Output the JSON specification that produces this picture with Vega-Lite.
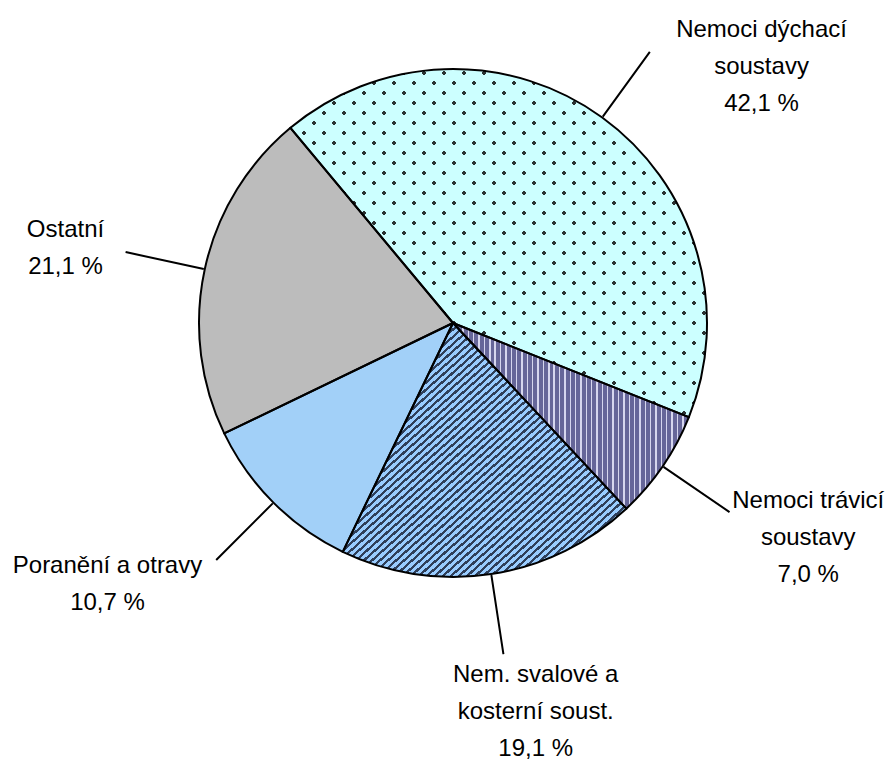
{
  "$schema": "https://vega.github.io/schema/vega-lite/v6.json",
  "width": 600,
  "height": 600,
  "autosize": {"type": "none"},
  "padding": {"left": 153, "top": 23, "right": 135, "bottom": 137},
  "background": "white",
  "config": {"view": {"stroke": null}},
  "data": {"values": [
    {"kategorie": "Nemoci dýchací soustavy", "podil": 42.1, "poradi": 1, "popisek": "Nemoci dýchací\nsoustavy\n42,1 %"},
    {"kategorie": "Nemoci trávicí soustavy", "podil": 7.0, "poradi": 2, "popisek": "Nemoci trávicí\nsoustavy\n7,0 %"},
    {"kategorie": "Nem. svalové a kosterní soust.", "podil": 19.1, "poradi": 3, "popisek": "Nem. svalové a\nkosterní soust.\n19,1 %"},
    {"kategorie": "Poranění a otravy", "podil": 10.7, "poradi": 4, "popisek": "Poranění a otravy\n10,7 %"},
    {"kategorie": "Ostatní", "podil": 21.1, "poradi": 5, "popisek": "Ostatní\n21,1 %"}
  ]},
  "encoding": {
    "theta": {"field": "podil", "type": "quantitative", "stack": true, "scale": {"range": [-0.6946, 5.5886]}},
    "order": {"field": "poradi", "type": "quantitative"}
  },
  "layer": [
    {
      "mark": {"type": "arc", "outerRadius": 254},
      "encoding": {
        "fill": {
          "condition": [
            {"test": "datum.poradi === 1", "value": "#2a3333"},
            {"test": "datum.poradi === 2", "value": {"gradient": "linear", "x1": 0, "y1": 0, "x2": 1, "y2": 0, "stops": [
              {"offset":0,"color":"#666699"},{"offset":0.0168,"color":"#666699"},{"offset":0.0168,"color":"#d6d6ee"},{"offset":0.0227,"color":"#d6d6ee"},
              {"offset":0.0227,"color":"#666699"},{"offset":0.0396,"color":"#666699"},{"offset":0.0396,"color":"#d6d6ee"},{"offset":0.0455,"color":"#d6d6ee"},
              {"offset":0.0455,"color":"#666699"},{"offset":0.0623,"color":"#666699"},{"offset":0.0623,"color":"#d6d6ee"},{"offset":0.0682,"color":"#d6d6ee"},
              {"offset":0.0682,"color":"#666699"},{"offset":0.0850,"color":"#666699"},{"offset":0.0850,"color":"#d6d6ee"},{"offset":0.0909,"color":"#d6d6ee"},
              {"offset":0.0909,"color":"#666699"},{"offset":0.1077,"color":"#666699"},{"offset":0.1077,"color":"#d6d6ee"},{"offset":0.1136,"color":"#d6d6ee"},
              {"offset":0.1136,"color":"#666699"},{"offset":0.1305,"color":"#666699"},{"offset":0.1305,"color":"#d6d6ee"},{"offset":0.1364,"color":"#d6d6ee"},
              {"offset":0.1364,"color":"#666699"},{"offset":0.1532,"color":"#666699"},{"offset":0.1532,"color":"#d6d6ee"},{"offset":0.1591,"color":"#d6d6ee"},
              {"offset":0.1591,"color":"#666699"},{"offset":0.1759,"color":"#666699"},{"offset":0.1759,"color":"#d6d6ee"},{"offset":0.1818,"color":"#d6d6ee"},
              {"offset":0.1818,"color":"#666699"},{"offset":0.1986,"color":"#666699"},{"offset":0.1986,"color":"#d6d6ee"},{"offset":0.2045,"color":"#d6d6ee"},
              {"offset":0.2045,"color":"#666699"},{"offset":0.2214,"color":"#666699"},{"offset":0.2214,"color":"#d6d6ee"},{"offset":0.2273,"color":"#d6d6ee"},
              {"offset":0.2273,"color":"#666699"},{"offset":0.2441,"color":"#666699"},{"offset":0.2441,"color":"#d6d6ee"},{"offset":0.25,"color":"#d6d6ee"},
              {"offset":0.25,"color":"#666699"},{"offset":0.2668,"color":"#666699"},{"offset":0.2668,"color":"#d6d6ee"},{"offset":0.2727,"color":"#d6d6ee"},
              {"offset":0.2727,"color":"#666699"},{"offset":0.2896,"color":"#666699"},{"offset":0.2896,"color":"#d6d6ee"},{"offset":0.2955,"color":"#d6d6ee"},
              {"offset":0.2955,"color":"#666699"},{"offset":0.3123,"color":"#666699"},{"offset":0.3123,"color":"#d6d6ee"},{"offset":0.3182,"color":"#d6d6ee"},
              {"offset":0.3182,"color":"#666699"},{"offset":0.3350,"color":"#666699"},{"offset":0.3350,"color":"#d6d6ee"},{"offset":0.3409,"color":"#d6d6ee"},
              {"offset":0.3409,"color":"#666699"},{"offset":0.3577,"color":"#666699"},{"offset":0.3577,"color":"#d6d6ee"},{"offset":0.3636,"color":"#d6d6ee"},
              {"offset":0.3636,"color":"#666699"},{"offset":0.3805,"color":"#666699"},{"offset":0.3805,"color":"#d6d6ee"},{"offset":0.3864,"color":"#d6d6ee"},
              {"offset":0.3864,"color":"#666699"},{"offset":0.4032,"color":"#666699"},{"offset":0.4032,"color":"#d6d6ee"},{"offset":0.4091,"color":"#d6d6ee"},
              {"offset":0.4091,"color":"#666699"},{"offset":0.4259,"color":"#666699"},{"offset":0.4259,"color":"#d6d6ee"},{"offset":0.4318,"color":"#d6d6ee"},
              {"offset":0.4318,"color":"#666699"},{"offset":0.4486,"color":"#666699"},{"offset":0.4486,"color":"#d6d6ee"},{"offset":0.4545,"color":"#d6d6ee"},
              {"offset":0.4545,"color":"#666699"},{"offset":0.4714,"color":"#666699"},{"offset":0.4714,"color":"#d6d6ee"},{"offset":0.4773,"color":"#d6d6ee"},
              {"offset":0.4773,"color":"#666699"},{"offset":0.4941,"color":"#666699"},{"offset":0.4941,"color":"#d6d6ee"},{"offset":0.5,"color":"#d6d6ee"},
              {"offset":0.5,"color":"#666699"},{"offset":0.5168,"color":"#666699"},{"offset":0.5168,"color":"#d6d6ee"},{"offset":0.5227,"color":"#d6d6ee"},
              {"offset":0.5227,"color":"#666699"},{"offset":0.5396,"color":"#666699"},{"offset":0.5396,"color":"#d6d6ee"},{"offset":0.5455,"color":"#d6d6ee"},
              {"offset":0.5455,"color":"#666699"},{"offset":0.5623,"color":"#666699"},{"offset":0.5623,"color":"#d6d6ee"},{"offset":0.5682,"color":"#d6d6ee"},
              {"offset":0.5682,"color":"#666699"},{"offset":0.5850,"color":"#666699"},{"offset":0.5850,"color":"#d6d6ee"},{"offset":0.5909,"color":"#d6d6ee"},
              {"offset":0.5909,"color":"#666699"},{"offset":0.6077,"color":"#666699"},{"offset":0.6077,"color":"#d6d6ee"},{"offset":0.6136,"color":"#d6d6ee"},
              {"offset":0.6136,"color":"#666699"},{"offset":0.6305,"color":"#666699"},{"offset":0.6305,"color":"#d6d6ee"},{"offset":0.6364,"color":"#d6d6ee"},
              {"offset":0.6364,"color":"#666699"},{"offset":0.6532,"color":"#666699"},{"offset":0.6532,"color":"#d6d6ee"},{"offset":0.6591,"color":"#d6d6ee"},
              {"offset":0.6591,"color":"#666699"},{"offset":0.6759,"color":"#666699"},{"offset":0.6759,"color":"#d6d6ee"},{"offset":0.6818,"color":"#d6d6ee"},
              {"offset":0.6818,"color":"#666699"},{"offset":0.6986,"color":"#666699"},{"offset":0.6986,"color":"#d6d6ee"},{"offset":0.7045,"color":"#d6d6ee"},
              {"offset":0.7045,"color":"#666699"},{"offset":0.7214,"color":"#666699"},{"offset":0.7214,"color":"#d6d6ee"},{"offset":0.7273,"color":"#d6d6ee"},
              {"offset":0.7273,"color":"#666699"},{"offset":0.7441,"color":"#666699"},{"offset":0.7441,"color":"#d6d6ee"},{"offset":0.75,"color":"#d6d6ee"},
              {"offset":0.75,"color":"#666699"},{"offset":0.7668,"color":"#666699"},{"offset":0.7668,"color":"#d6d6ee"},{"offset":0.7727,"color":"#d6d6ee"},
              {"offset":0.7727,"color":"#666699"},{"offset":0.7896,"color":"#666699"},{"offset":0.7896,"color":"#d6d6ee"},{"offset":0.7955,"color":"#d6d6ee"},
              {"offset":0.7955,"color":"#666699"},{"offset":0.8123,"color":"#666699"},{"offset":0.8123,"color":"#d6d6ee"},{"offset":0.8182,"color":"#d6d6ee"},
              {"offset":0.8182,"color":"#666699"},{"offset":0.8350,"color":"#666699"},{"offset":0.8350,"color":"#d6d6ee"},{"offset":0.8409,"color":"#d6d6ee"},
              {"offset":0.8409,"color":"#666699"},{"offset":0.8577,"color":"#666699"},{"offset":0.8577,"color":"#d6d6ee"},{"offset":0.8636,"color":"#d6d6ee"},
              {"offset":0.8636,"color":"#666699"},{"offset":0.8805,"color":"#666699"},{"offset":0.8805,"color":"#d6d6ee"},{"offset":0.8864,"color":"#d6d6ee"},
              {"offset":0.8864,"color":"#666699"},{"offset":0.9032,"color":"#666699"},{"offset":0.9032,"color":"#d6d6ee"},{"offset":0.9091,"color":"#d6d6ee"},
              {"offset":0.9091,"color":"#666699"},{"offset":0.9259,"color":"#666699"},{"offset":0.9259,"color":"#d6d6ee"},{"offset":0.9318,"color":"#d6d6ee"},
              {"offset":0.9318,"color":"#666699"},{"offset":0.9486,"color":"#666699"},{"offset":0.9486,"color":"#d6d6ee"},{"offset":0.9545,"color":"#d6d6ee"},
              {"offset":0.9545,"color":"#666699"},{"offset":0.9714,"color":"#666699"},{"offset":0.9714,"color":"#d6d6ee"},{"offset":0.9773,"color":"#d6d6ee"},
              {"offset":0.9773,"color":"#666699"},{"offset":0.9941,"color":"#666699"},{"offset":0.9941,"color":"#d6d6ee"},{"offset":1,"color":"#d6d6ee"}
            ]}},
            {"test": "datum.poradi === 3", "value": {"gradient": "linear", "x1": 0.19, "y1": 0.19, "x2": 0.87, "y2": 0.87, "stops": [
              {"offset":0,"color":"#2f3f5a"},{"offset":0.0088,"color":"#2f3f5a"},{"offset":0.0088,"color":"#99ccff"},{"offset":0.0208,"color":"#99ccff"},
              {"offset":0.0208,"color":"#2f3f5a"},{"offset":0.0296,"color":"#2f3f5a"},{"offset":0.0296,"color":"#99ccff"},{"offset":0.0417,"color":"#99ccff"},
              {"offset":0.0417,"color":"#2f3f5a"},{"offset":0.0504,"color":"#2f3f5a"},{"offset":0.0504,"color":"#99ccff"},{"offset":0.0625,"color":"#99ccff"},
              {"offset":0.0625,"color":"#2f3f5a"},{"offset":0.0713,"color":"#2f3f5a"},{"offset":0.0713,"color":"#99ccff"},{"offset":0.0833,"color":"#99ccff"},
              {"offset":0.0833,"color":"#2f3f5a"},{"offset":0.0921,"color":"#2f3f5a"},{"offset":0.0921,"color":"#99ccff"},{"offset":0.1042,"color":"#99ccff"},
              {"offset":0.1042,"color":"#2f3f5a"},{"offset":0.1129,"color":"#2f3f5a"},{"offset":0.1129,"color":"#99ccff"},{"offset":0.125,"color":"#99ccff"},
              {"offset":0.125,"color":"#2f3f5a"},{"offset":0.1338,"color":"#2f3f5a"},{"offset":0.1338,"color":"#99ccff"},{"offset":0.1458,"color":"#99ccff"},
              {"offset":0.1458,"color":"#2f3f5a"},{"offset":0.1546,"color":"#2f3f5a"},{"offset":0.1546,"color":"#99ccff"},{"offset":0.1667,"color":"#99ccff"},
              {"offset":0.1667,"color":"#2f3f5a"},{"offset":0.1754,"color":"#2f3f5a"},{"offset":0.1754,"color":"#99ccff"},{"offset":0.1875,"color":"#99ccff"},
              {"offset":0.1875,"color":"#2f3f5a"},{"offset":0.1963,"color":"#2f3f5a"},{"offset":0.1963,"color":"#99ccff"},{"offset":0.2083,"color":"#99ccff"},
              {"offset":0.2083,"color":"#2f3f5a"},{"offset":0.2171,"color":"#2f3f5a"},{"offset":0.2171,"color":"#99ccff"},{"offset":0.2292,"color":"#99ccff"},
              {"offset":0.2292,"color":"#2f3f5a"},{"offset":0.2379,"color":"#2f3f5a"},{"offset":0.2379,"color":"#99ccff"},{"offset":0.25,"color":"#99ccff"},
              {"offset":0.25,"color":"#2f3f5a"},{"offset":0.2588,"color":"#2f3f5a"},{"offset":0.2588,"color":"#99ccff"},{"offset":0.2708,"color":"#99ccff"},
              {"offset":0.2708,"color":"#2f3f5a"},{"offset":0.2796,"color":"#2f3f5a"},{"offset":0.2796,"color":"#99ccff"},{"offset":0.2917,"color":"#99ccff"},
              {"offset":0.2917,"color":"#2f3f5a"},{"offset":0.3004,"color":"#2f3f5a"},{"offset":0.3004,"color":"#99ccff"},{"offset":0.3125,"color":"#99ccff"},
              {"offset":0.3125,"color":"#2f3f5a"},{"offset":0.3213,"color":"#2f3f5a"},{"offset":0.3213,"color":"#99ccff"},{"offset":0.3333,"color":"#99ccff"},
              {"offset":0.3333,"color":"#2f3f5a"},{"offset":0.3421,"color":"#2f3f5a"},{"offset":0.3421,"color":"#99ccff"},{"offset":0.3542,"color":"#99ccff"},
              {"offset":0.3542,"color":"#2f3f5a"},{"offset":0.3629,"color":"#2f3f5a"},{"offset":0.3629,"color":"#99ccff"},{"offset":0.375,"color":"#99ccff"},
              {"offset":0.375,"color":"#2f3f5a"},{"offset":0.3838,"color":"#2f3f5a"},{"offset":0.3838,"color":"#99ccff"},{"offset":0.3958,"color":"#99ccff"},
              {"offset":0.3958,"color":"#2f3f5a"},{"offset":0.4046,"color":"#2f3f5a"},{"offset":0.4046,"color":"#99ccff"},{"offset":0.4167,"color":"#99ccff"},
              {"offset":0.4167,"color":"#2f3f5a"},{"offset":0.4254,"color":"#2f3f5a"},{"offset":0.4254,"color":"#99ccff"},{"offset":0.4375,"color":"#99ccff"},
              {"offset":0.4375,"color":"#2f3f5a"},{"offset":0.4463,"color":"#2f3f5a"},{"offset":0.4463,"color":"#99ccff"},{"offset":0.4583,"color":"#99ccff"},
              {"offset":0.4583,"color":"#2f3f5a"},{"offset":0.4671,"color":"#2f3f5a"},{"offset":0.4671,"color":"#99ccff"},{"offset":0.4792,"color":"#99ccff"},
              {"offset":0.4792,"color":"#2f3f5a"},{"offset":0.4879,"color":"#2f3f5a"},{"offset":0.4879,"color":"#99ccff"},{"offset":0.5,"color":"#99ccff"},
              {"offset":0.5,"color":"#2f3f5a"},{"offset":0.5088,"color":"#2f3f5a"},{"offset":0.5088,"color":"#99ccff"},{"offset":0.5208,"color":"#99ccff"},
              {"offset":0.5208,"color":"#2f3f5a"},{"offset":0.5296,"color":"#2f3f5a"},{"offset":0.5296,"color":"#99ccff"},{"offset":0.5417,"color":"#99ccff"},
              {"offset":0.5417,"color":"#2f3f5a"},{"offset":0.5504,"color":"#2f3f5a"},{"offset":0.5504,"color":"#99ccff"},{"offset":0.5625,"color":"#99ccff"},
              {"offset":0.5625,"color":"#2f3f5a"},{"offset":0.5713,"color":"#2f3f5a"},{"offset":0.5713,"color":"#99ccff"},{"offset":0.5833,"color":"#99ccff"},
              {"offset":0.5833,"color":"#2f3f5a"},{"offset":0.5921,"color":"#2f3f5a"},{"offset":0.5921,"color":"#99ccff"},{"offset":0.6042,"color":"#99ccff"},
              {"offset":0.6042,"color":"#2f3f5a"},{"offset":0.6129,"color":"#2f3f5a"},{"offset":0.6129,"color":"#99ccff"},{"offset":0.625,"color":"#99ccff"},
              {"offset":0.625,"color":"#2f3f5a"},{"offset":0.6338,"color":"#2f3f5a"},{"offset":0.6338,"color":"#99ccff"},{"offset":0.6458,"color":"#99ccff"},
              {"offset":0.6458,"color":"#2f3f5a"},{"offset":0.6546,"color":"#2f3f5a"},{"offset":0.6546,"color":"#99ccff"},{"offset":0.6667,"color":"#99ccff"},
              {"offset":0.6667,"color":"#2f3f5a"},{"offset":0.6754,"color":"#2f3f5a"},{"offset":0.6754,"color":"#99ccff"},{"offset":0.6875,"color":"#99ccff"},
              {"offset":0.6875,"color":"#2f3f5a"},{"offset":0.6963,"color":"#2f3f5a"},{"offset":0.6963,"color":"#99ccff"},{"offset":0.7083,"color":"#99ccff"},
              {"offset":0.7083,"color":"#2f3f5a"},{"offset":0.7171,"color":"#2f3f5a"},{"offset":0.7171,"color":"#99ccff"},{"offset":0.7292,"color":"#99ccff"},
              {"offset":0.7292,"color":"#2f3f5a"},{"offset":0.7379,"color":"#2f3f5a"},{"offset":0.7379,"color":"#99ccff"},{"offset":0.75,"color":"#99ccff"},
              {"offset":0.75,"color":"#2f3f5a"},{"offset":0.7588,"color":"#2f3f5a"},{"offset":0.7588,"color":"#99ccff"},{"offset":0.7708,"color":"#99ccff"},
              {"offset":0.7708,"color":"#2f3f5a"},{"offset":0.7796,"color":"#2f3f5a"},{"offset":0.7796,"color":"#99ccff"},{"offset":0.7917,"color":"#99ccff"},
              {"offset":0.7917,"color":"#2f3f5a"},{"offset":0.8004,"color":"#2f3f5a"},{"offset":0.8004,"color":"#99ccff"},{"offset":0.8125,"color":"#99ccff"},
              {"offset":0.8125,"color":"#2f3f5a"},{"offset":0.8213,"color":"#2f3f5a"},{"offset":0.8213,"color":"#99ccff"},{"offset":0.8333,"color":"#99ccff"},
              {"offset":0.8333,"color":"#2f3f5a"},{"offset":0.8421,"color":"#2f3f5a"},{"offset":0.8421,"color":"#99ccff"},{"offset":0.8542,"color":"#99ccff"},
              {"offset":0.8542,"color":"#2f3f5a"},{"offset":0.8629,"color":"#2f3f5a"},{"offset":0.8629,"color":"#99ccff"},{"offset":0.875,"color":"#99ccff"},
              {"offset":0.875,"color":"#2f3f5a"},{"offset":0.8838,"color":"#2f3f5a"},{"offset":0.8838,"color":"#99ccff"},{"offset":0.8958,"color":"#99ccff"},
              {"offset":0.8958,"color":"#2f3f5a"},{"offset":0.9046,"color":"#2f3f5a"},{"offset":0.9046,"color":"#99ccff"},{"offset":0.9167,"color":"#99ccff"},
              {"offset":0.9167,"color":"#2f3f5a"},{"offset":0.9254,"color":"#2f3f5a"},{"offset":0.9254,"color":"#99ccff"},{"offset":0.9375,"color":"#99ccff"},
              {"offset":0.9375,"color":"#2f3f5a"},{"offset":0.9463,"color":"#2f3f5a"},{"offset":0.9463,"color":"#99ccff"},{"offset":0.9583,"color":"#99ccff"},
              {"offset":0.9583,"color":"#2f3f5a"},{"offset":0.9671,"color":"#2f3f5a"},{"offset":0.9671,"color":"#99ccff"},{"offset":0.9792,"color":"#99ccff"},
              {"offset":0.9792,"color":"#2f3f5a"},{"offset":0.9879,"color":"#2f3f5a"},{"offset":0.9879,"color":"#99ccff"},{"offset":1,"color":"#99ccff"}
            ]}},
            {"test": "datum.poradi === 4", "value": "#a2d0f8"}
          ],
          "value": "#bcbcbc"
        }
      }
    },
    {
      "mark": {"type": "arc", "outerRadius": 254},
      "encoding": {
        "fill": {
          "condition": {"test": "datum.poradi === 1", "value": {"gradient": "linear", "x1": 0, "y1": 0, "x2": 1.074, "y2": 0.8983, "stops": [
            {"offset":0,"color":"#ccffff"},{"offset":0.0201,"color":"#ccffff"},{"offset":0.0201,"color":"rgba(204,255,255,0)"},{"offset":0.0263,"color":"rgba(204,255,255,0)"},
            {"offset":0.0263,"color":"#ccffff"},{"offset":0.0464,"color":"#ccffff"},{"offset":0.0464,"color":"rgba(204,255,255,0)"},{"offset":0.0526,"color":"rgba(204,255,255,0)"},
            {"offset":0.0526,"color":"#ccffff"},{"offset":0.0727,"color":"#ccffff"},{"offset":0.0727,"color":"rgba(204,255,255,0)"},{"offset":0.0789,"color":"rgba(204,255,255,0)"},
            {"offset":0.0789,"color":"#ccffff"},{"offset":0.0991,"color":"#ccffff"},{"offset":0.0991,"color":"rgba(204,255,255,0)"},{"offset":0.1053,"color":"rgba(204,255,255,0)"},
            {"offset":0.1053,"color":"#ccffff"},{"offset":0.1254,"color":"#ccffff"},{"offset":0.1254,"color":"rgba(204,255,255,0)"},{"offset":0.1316,"color":"rgba(204,255,255,0)"},
            {"offset":0.1316,"color":"#ccffff"},{"offset":0.1517,"color":"#ccffff"},{"offset":0.1517,"color":"rgba(204,255,255,0)"},{"offset":0.1579,"color":"rgba(204,255,255,0)"},
            {"offset":0.1579,"color":"#ccffff"},{"offset":0.178,"color":"#ccffff"},{"offset":0.178,"color":"rgba(204,255,255,0)"},{"offset":0.1842,"color":"rgba(204,255,255,0)"},
            {"offset":0.1842,"color":"#ccffff"},{"offset":0.2043,"color":"#ccffff"},{"offset":0.2043,"color":"rgba(204,255,255,0)"},{"offset":0.2105,"color":"rgba(204,255,255,0)"},
            {"offset":0.2105,"color":"#ccffff"},{"offset":0.2306,"color":"#ccffff"},{"offset":0.2306,"color":"rgba(204,255,255,0)"},{"offset":0.2368,"color":"rgba(204,255,255,0)"},
            {"offset":0.2368,"color":"#ccffff"},{"offset":0.257,"color":"#ccffff"},{"offset":0.257,"color":"rgba(204,255,255,0)"},{"offset":0.2632,"color":"rgba(204,255,255,0)"},
            {"offset":0.2632,"color":"#ccffff"},{"offset":0.2833,"color":"#ccffff"},{"offset":0.2833,"color":"rgba(204,255,255,0)"},{"offset":0.2895,"color":"rgba(204,255,255,0)"},
            {"offset":0.2895,"color":"#ccffff"},{"offset":0.3096,"color":"#ccffff"},{"offset":0.3096,"color":"rgba(204,255,255,0)"},{"offset":0.3158,"color":"rgba(204,255,255,0)"},
            {"offset":0.3158,"color":"#ccffff"},{"offset":0.3359,"color":"#ccffff"},{"offset":0.3359,"color":"rgba(204,255,255,0)"},{"offset":0.3421,"color":"rgba(204,255,255,0)"},
            {"offset":0.3421,"color":"#ccffff"},{"offset":0.3622,"color":"#ccffff"},{"offset":0.3622,"color":"rgba(204,255,255,0)"},{"offset":0.3684,"color":"rgba(204,255,255,0)"},
            {"offset":0.3684,"color":"#ccffff"},{"offset":0.3885,"color":"#ccffff"},{"offset":0.3885,"color":"rgba(204,255,255,0)"},{"offset":0.3947,"color":"rgba(204,255,255,0)"},
            {"offset":0.3947,"color":"#ccffff"},{"offset":0.4149,"color":"#ccffff"},{"offset":0.4149,"color":"rgba(204,255,255,0)"},{"offset":0.4211,"color":"rgba(204,255,255,0)"},
            {"offset":0.4211,"color":"#ccffff"},{"offset":0.4412,"color":"#ccffff"},{"offset":0.4412,"color":"rgba(204,255,255,0)"},{"offset":0.4474,"color":"rgba(204,255,255,0)"},
            {"offset":0.4474,"color":"#ccffff"},{"offset":0.4675,"color":"#ccffff"},{"offset":0.4675,"color":"rgba(204,255,255,0)"},{"offset":0.4737,"color":"rgba(204,255,255,0)"},
            {"offset":0.4737,"color":"#ccffff"},{"offset":0.4938,"color":"#ccffff"},{"offset":0.4938,"color":"rgba(204,255,255,0)"},{"offset":0.5,"color":"rgba(204,255,255,0)"},
            {"offset":0.5,"color":"#ccffff"},{"offset":0.5201,"color":"#ccffff"},{"offset":0.5201,"color":"rgba(204,255,255,0)"},{"offset":0.5263,"color":"rgba(204,255,255,0)"},
            {"offset":0.5263,"color":"#ccffff"},{"offset":0.5464,"color":"#ccffff"},{"offset":0.5464,"color":"rgba(204,255,255,0)"},{"offset":0.5526,"color":"rgba(204,255,255,0)"},
            {"offset":0.5526,"color":"#ccffff"},{"offset":0.5727,"color":"#ccffff"},{"offset":0.5727,"color":"rgba(204,255,255,0)"},{"offset":0.5789,"color":"rgba(204,255,255,0)"},
            {"offset":0.5789,"color":"#ccffff"},{"offset":0.5991,"color":"#ccffff"},{"offset":0.5991,"color":"rgba(204,255,255,0)"},{"offset":0.6053,"color":"rgba(204,255,255,0)"},
            {"offset":0.6053,"color":"#ccffff"},{"offset":0.6254,"color":"#ccffff"},{"offset":0.6254,"color":"rgba(204,255,255,0)"},{"offset":0.6316,"color":"rgba(204,255,255,0)"},
            {"offset":0.6316,"color":"#ccffff"},{"offset":0.6517,"color":"#ccffff"},{"offset":0.6517,"color":"rgba(204,255,255,0)"},{"offset":0.6579,"color":"rgba(204,255,255,0)"},
            {"offset":0.6579,"color":"#ccffff"},{"offset":0.678,"color":"#ccffff"},{"offset":0.678,"color":"rgba(204,255,255,0)"},{"offset":0.6842,"color":"rgba(204,255,255,0)"},
            {"offset":0.6842,"color":"#ccffff"},{"offset":0.7043,"color":"#ccffff"},{"offset":0.7043,"color":"rgba(204,255,255,0)"},{"offset":0.7105,"color":"rgba(204,255,255,0)"},
            {"offset":0.7105,"color":"#ccffff"},{"offset":0.7306,"color":"#ccffff"},{"offset":0.7306,"color":"rgba(204,255,255,0)"},{"offset":0.7368,"color":"rgba(204,255,255,0)"},
            {"offset":0.7368,"color":"#ccffff"},{"offset":0.757,"color":"#ccffff"},{"offset":0.757,"color":"rgba(204,255,255,0)"},{"offset":0.7632,"color":"rgba(204,255,255,0)"},
            {"offset":0.7632,"color":"#ccffff"},{"offset":0.7833,"color":"#ccffff"},{"offset":0.7833,"color":"rgba(204,255,255,0)"},{"offset":0.7895,"color":"rgba(204,255,255,0)"},
            {"offset":0.7895,"color":"#ccffff"},{"offset":0.8096,"color":"#ccffff"},{"offset":0.8096,"color":"rgba(204,255,255,0)"},{"offset":0.8158,"color":"rgba(204,255,255,0)"},
            {"offset":0.8158,"color":"#ccffff"},{"offset":0.8359,"color":"#ccffff"},{"offset":0.8359,"color":"rgba(204,255,255,0)"},{"offset":0.8421,"color":"rgba(204,255,255,0)"},
            {"offset":0.8421,"color":"#ccffff"},{"offset":0.8622,"color":"#ccffff"},{"offset":0.8622,"color":"rgba(204,255,255,0)"},{"offset":0.8684,"color":"rgba(204,255,255,0)"},
            {"offset":0.8684,"color":"#ccffff"},{"offset":0.8885,"color":"#ccffff"},{"offset":0.8885,"color":"rgba(204,255,255,0)"},{"offset":0.8947,"color":"rgba(204,255,255,0)"},
            {"offset":0.8947,"color":"#ccffff"},{"offset":0.9149,"color":"#ccffff"},{"offset":0.9149,"color":"rgba(204,255,255,0)"},{"offset":0.9211,"color":"rgba(204,255,255,0)"},
            {"offset":0.9211,"color":"#ccffff"},{"offset":0.9412,"color":"#ccffff"},{"offset":0.9412,"color":"rgba(204,255,255,0)"},{"offset":0.9474,"color":"rgba(204,255,255,0)"},
            {"offset":0.9474,"color":"#ccffff"},{"offset":0.9675,"color":"#ccffff"},{"offset":0.9675,"color":"rgba(204,255,255,0)"},{"offset":0.9737,"color":"rgba(204,255,255,0)"},
            {"offset":0.9737,"color":"#ccffff"},{"offset":0.9938,"color":"#ccffff"},{"offset":0.9938,"color":"rgba(204,255,255,0)"},{"offset":1,"color":"rgba(204,255,255,0)"}
          ]}},
          "value": "transparent"
        }
      }
    },
    {
      "mark": {"type": "arc", "outerRadius": 254},
      "encoding": {
        "fill": {
          "condition": {"test": "datum.poradi === 1", "value": {"gradient": "linear", "x1": 0, "y1": 1, "x2": 1.074, "y2": 0.1017, "stops": [
            {"offset":0,"color":"#ccffff"},{"offset":0.0201,"color":"#ccffff"},{"offset":0.0201,"color":"rgba(204,255,255,0)"},{"offset":0.0263,"color":"rgba(204,255,255,0)"},
            {"offset":0.0263,"color":"#ccffff"},{"offset":0.0464,"color":"#ccffff"},{"offset":0.0464,"color":"rgba(204,255,255,0)"},{"offset":0.0526,"color":"rgba(204,255,255,0)"},
            {"offset":0.0526,"color":"#ccffff"},{"offset":0.0727,"color":"#ccffff"},{"offset":0.0727,"color":"rgba(204,255,255,0)"},{"offset":0.0789,"color":"rgba(204,255,255,0)"},
            {"offset":0.0789,"color":"#ccffff"},{"offset":0.0991,"color":"#ccffff"},{"offset":0.0991,"color":"rgba(204,255,255,0)"},{"offset":0.1053,"color":"rgba(204,255,255,0)"},
            {"offset":0.1053,"color":"#ccffff"},{"offset":0.1254,"color":"#ccffff"},{"offset":0.1254,"color":"rgba(204,255,255,0)"},{"offset":0.1316,"color":"rgba(204,255,255,0)"},
            {"offset":0.1316,"color":"#ccffff"},{"offset":0.1517,"color":"#ccffff"},{"offset":0.1517,"color":"rgba(204,255,255,0)"},{"offset":0.1579,"color":"rgba(204,255,255,0)"},
            {"offset":0.1579,"color":"#ccffff"},{"offset":0.178,"color":"#ccffff"},{"offset":0.178,"color":"rgba(204,255,255,0)"},{"offset":0.1842,"color":"rgba(204,255,255,0)"},
            {"offset":0.1842,"color":"#ccffff"},{"offset":0.2043,"color":"#ccffff"},{"offset":0.2043,"color":"rgba(204,255,255,0)"},{"offset":0.2105,"color":"rgba(204,255,255,0)"},
            {"offset":0.2105,"color":"#ccffff"},{"offset":0.2306,"color":"#ccffff"},{"offset":0.2306,"color":"rgba(204,255,255,0)"},{"offset":0.2368,"color":"rgba(204,255,255,0)"},
            {"offset":0.2368,"color":"#ccffff"},{"offset":0.257,"color":"#ccffff"},{"offset":0.257,"color":"rgba(204,255,255,0)"},{"offset":0.2632,"color":"rgba(204,255,255,0)"},
            {"offset":0.2632,"color":"#ccffff"},{"offset":0.2833,"color":"#ccffff"},{"offset":0.2833,"color":"rgba(204,255,255,0)"},{"offset":0.2895,"color":"rgba(204,255,255,0)"},
            {"offset":0.2895,"color":"#ccffff"},{"offset":0.3096,"color":"#ccffff"},{"offset":0.3096,"color":"rgba(204,255,255,0)"},{"offset":0.3158,"color":"rgba(204,255,255,0)"},
            {"offset":0.3158,"color":"#ccffff"},{"offset":0.3359,"color":"#ccffff"},{"offset":0.3359,"color":"rgba(204,255,255,0)"},{"offset":0.3421,"color":"rgba(204,255,255,0)"},
            {"offset":0.3421,"color":"#ccffff"},{"offset":0.3622,"color":"#ccffff"},{"offset":0.3622,"color":"rgba(204,255,255,0)"},{"offset":0.3684,"color":"rgba(204,255,255,0)"},
            {"offset":0.3684,"color":"#ccffff"},{"offset":0.3885,"color":"#ccffff"},{"offset":0.3885,"color":"rgba(204,255,255,0)"},{"offset":0.3947,"color":"rgba(204,255,255,0)"},
            {"offset":0.3947,"color":"#ccffff"},{"offset":0.4149,"color":"#ccffff"},{"offset":0.4149,"color":"rgba(204,255,255,0)"},{"offset":0.4211,"color":"rgba(204,255,255,0)"},
            {"offset":0.4211,"color":"#ccffff"},{"offset":0.4412,"color":"#ccffff"},{"offset":0.4412,"color":"rgba(204,255,255,0)"},{"offset":0.4474,"color":"rgba(204,255,255,0)"},
            {"offset":0.4474,"color":"#ccffff"},{"offset":0.4675,"color":"#ccffff"},{"offset":0.4675,"color":"rgba(204,255,255,0)"},{"offset":0.4737,"color":"rgba(204,255,255,0)"},
            {"offset":0.4737,"color":"#ccffff"},{"offset":0.4938,"color":"#ccffff"},{"offset":0.4938,"color":"rgba(204,255,255,0)"},{"offset":0.5,"color":"rgba(204,255,255,0)"},
            {"offset":0.5,"color":"#ccffff"},{"offset":0.5201,"color":"#ccffff"},{"offset":0.5201,"color":"rgba(204,255,255,0)"},{"offset":0.5263,"color":"rgba(204,255,255,0)"},
            {"offset":0.5263,"color":"#ccffff"},{"offset":0.5464,"color":"#ccffff"},{"offset":0.5464,"color":"rgba(204,255,255,0)"},{"offset":0.5526,"color":"rgba(204,255,255,0)"},
            {"offset":0.5526,"color":"#ccffff"},{"offset":0.5727,"color":"#ccffff"},{"offset":0.5727,"color":"rgba(204,255,255,0)"},{"offset":0.5789,"color":"rgba(204,255,255,0)"},
            {"offset":0.5789,"color":"#ccffff"},{"offset":0.5991,"color":"#ccffff"},{"offset":0.5991,"color":"rgba(204,255,255,0)"},{"offset":0.6053,"color":"rgba(204,255,255,0)"},
            {"offset":0.6053,"color":"#ccffff"},{"offset":0.6254,"color":"#ccffff"},{"offset":0.6254,"color":"rgba(204,255,255,0)"},{"offset":0.6316,"color":"rgba(204,255,255,0)"},
            {"offset":0.6316,"color":"#ccffff"},{"offset":0.6517,"color":"#ccffff"},{"offset":0.6517,"color":"rgba(204,255,255,0)"},{"offset":0.6579,"color":"rgba(204,255,255,0)"},
            {"offset":0.6579,"color":"#ccffff"},{"offset":0.678,"color":"#ccffff"},{"offset":0.678,"color":"rgba(204,255,255,0)"},{"offset":0.6842,"color":"rgba(204,255,255,0)"},
            {"offset":0.6842,"color":"#ccffff"},{"offset":0.7043,"color":"#ccffff"},{"offset":0.7043,"color":"rgba(204,255,255,0)"},{"offset":0.7105,"color":"rgba(204,255,255,0)"},
            {"offset":0.7105,"color":"#ccffff"},{"offset":0.7306,"color":"#ccffff"},{"offset":0.7306,"color":"rgba(204,255,255,0)"},{"offset":0.7368,"color":"rgba(204,255,255,0)"},
            {"offset":0.7368,"color":"#ccffff"},{"offset":0.757,"color":"#ccffff"},{"offset":0.757,"color":"rgba(204,255,255,0)"},{"offset":0.7632,"color":"rgba(204,255,255,0)"},
            {"offset":0.7632,"color":"#ccffff"},{"offset":0.7833,"color":"#ccffff"},{"offset":0.7833,"color":"rgba(204,255,255,0)"},{"offset":0.7895,"color":"rgba(204,255,255,0)"},
            {"offset":0.7895,"color":"#ccffff"},{"offset":0.8096,"color":"#ccffff"},{"offset":0.8096,"color":"rgba(204,255,255,0)"},{"offset":0.8158,"color":"rgba(204,255,255,0)"},
            {"offset":0.8158,"color":"#ccffff"},{"offset":0.8359,"color":"#ccffff"},{"offset":0.8359,"color":"rgba(204,255,255,0)"},{"offset":0.8421,"color":"rgba(204,255,255,0)"},
            {"offset":0.8421,"color":"#ccffff"},{"offset":0.8622,"color":"#ccffff"},{"offset":0.8622,"color":"rgba(204,255,255,0)"},{"offset":0.8684,"color":"rgba(204,255,255,0)"},
            {"offset":0.8684,"color":"#ccffff"},{"offset":0.8885,"color":"#ccffff"},{"offset":0.8885,"color":"rgba(204,255,255,0)"},{"offset":0.8947,"color":"rgba(204,255,255,0)"},
            {"offset":0.8947,"color":"#ccffff"},{"offset":0.9149,"color":"#ccffff"},{"offset":0.9149,"color":"rgba(204,255,255,0)"},{"offset":0.9211,"color":"rgba(204,255,255,0)"},
            {"offset":0.9211,"color":"#ccffff"},{"offset":0.9412,"color":"#ccffff"},{"offset":0.9412,"color":"rgba(204,255,255,0)"},{"offset":0.9474,"color":"rgba(204,255,255,0)"},
            {"offset":0.9474,"color":"#ccffff"},{"offset":0.9675,"color":"#ccffff"},{"offset":0.9675,"color":"rgba(204,255,255,0)"},{"offset":0.9737,"color":"rgba(204,255,255,0)"},
            {"offset":0.9737,"color":"#ccffff"},{"offset":0.9938,"color":"#ccffff"},{"offset":0.9938,"color":"rgba(204,255,255,0)"},{"offset":1,"color":"rgba(204,255,255,0)"}
          ]}},
          "value": "transparent"
        }
      }
    },
    {
      "mark": {"type": "arc", "outerRadius": 254, "filled": false, "stroke": "#000000", "strokeWidth": 2, "strokeJoin": "round"},
      "encoding": {}
    },
    {
      "mark": {"type": "arc", "innerRadius": 255, "outerRadius": 335, "padAngle": 3.1416, "filled": false, "stroke": "#000000", "strokeWidth": 2},
      "encoding": {}
    },
    {
      "mark": {"type": "text", "radius": 335, "dx": 111.7, "dy": -22.4, "align": "center", "baseline": "middle", "lineBreak": "\n", "lineHeight": 37, "fontSize": 24, "font": "Liberation Sans", "color": "#000000"},
      "encoding": {"text": {"condition": {"test": "datum.poradi === 1", "field": "popisek", "type": "nominal"}, "value": ""}}
    },
    {
      "mark": {"type": "text", "radius": 335, "dx": 78.7, "dy": -11, "align": "center", "baseline": "middle", "lineBreak": "\n", "lineHeight": 37, "fontSize": 24, "font": "Liberation Sans", "color": "#000000"},
      "encoding": {"text": {"condition": {"test": "datum.poradi === 2", "field": "popisek", "type": "nominal"}, "value": ""}}
    },
    {
      "mark": {"type": "text", "radius": 335, "dx": 32.3, "dy": 20.5, "align": "center", "baseline": "middle", "lineBreak": "\n", "lineHeight": 37, "fontSize": 24, "font": "Liberation Sans", "color": "#000000"},
      "encoding": {"text": {"condition": {"test": "datum.poradi === 3", "field": "popisek", "type": "nominal"}, "value": ""}}
    },
    {
      "mark": {"type": "text", "radius": 335, "dx": -108.7, "dy": 6.5, "align": "center", "baseline": "middle", "lineBreak": "\n", "lineHeight": 37, "fontSize": 24, "font": "Liberation Sans", "color": "#000000"},
      "encoding": {"text": {"condition": {"test": "datum.poradi === 4", "field": "popisek", "type": "nominal"}, "value": ""}}
    },
    {
      "mark": {"type": "text", "radius": 335, "dx": -60.1, "dy": -22.3, "align": "center", "baseline": "middle", "lineBreak": "\n", "lineHeight": 37, "fontSize": 24, "font": "Liberation Sans", "color": "#000000"},
      "encoding": {"text": {"condition": {"test": "datum.poradi === 5", "field": "popisek", "type": "nominal"}, "value": ""}}
    }
  ]
}
